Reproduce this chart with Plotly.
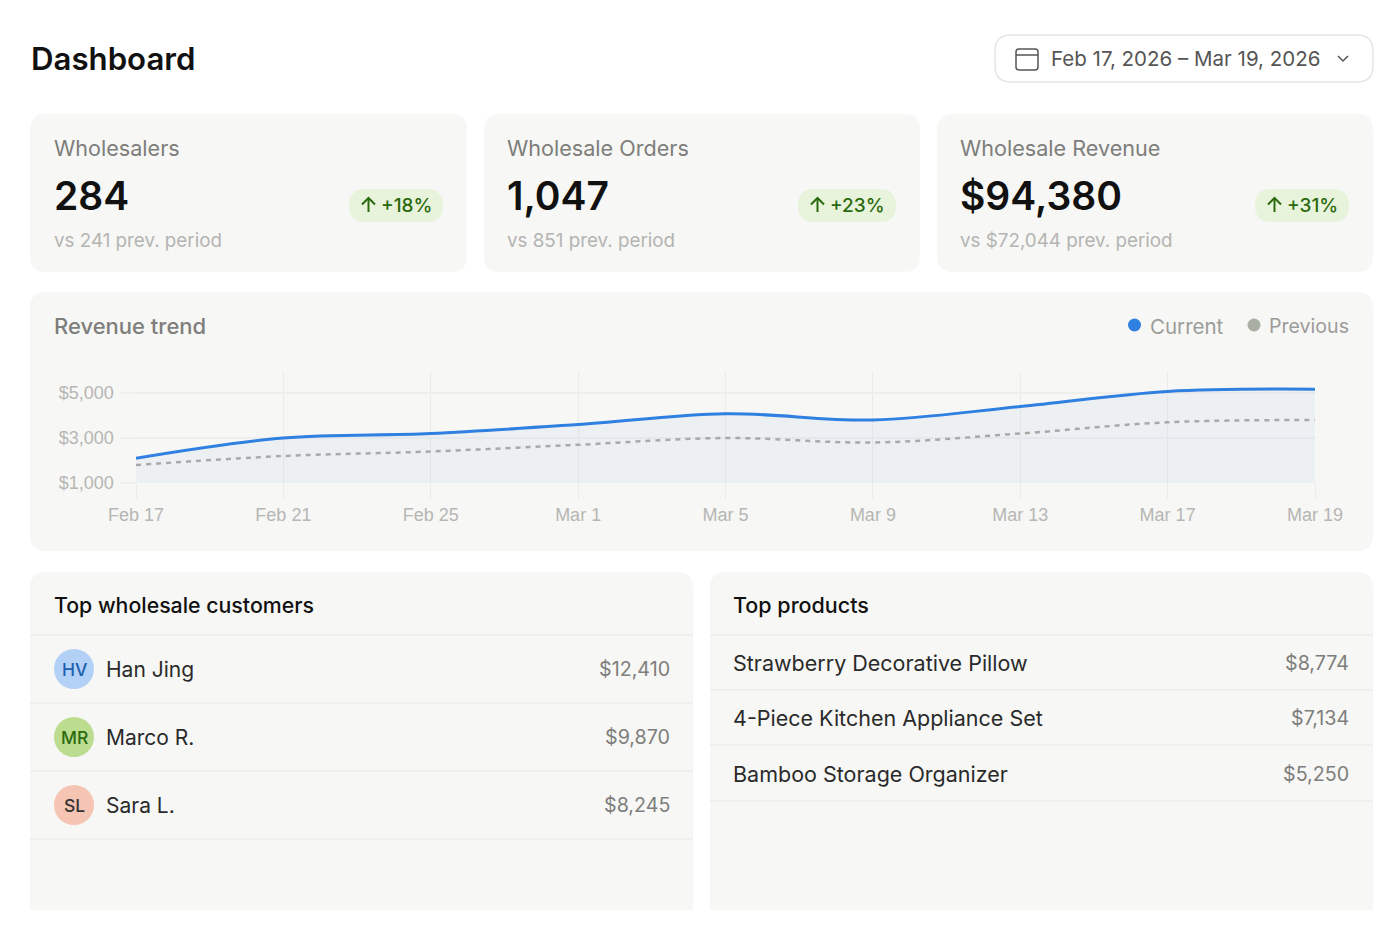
import plotly.graph_objects as go

W, H = 1400, 940
FONT = "Inter, sans-serif"
CHART_FONT = "Liberation Sans, Arial, sans-serif"

dates = ["Feb 17", "Feb 21", "Feb 25", "Mar 1", "Mar 5", "Mar 9", "Mar 13", "Mar 17", "Mar 19"]
current = [2100, 3000, 3200, 3600, 4080, 3800, 4400, 5070, 5170]
previous = [1800, 2200, 2400, 2700, 3000, 2800, 3200, 3700, 3800]
y_ticks = [1000, 3000, 5000]
y_labels = ["$1,000", "$3,000", "$5,000"]

kpi_titles = ["Wholesalers", "Wholesale Orders", "Wholesale Revenue"]
kpi_values = ["284", "1,047", "$94,380"]
kpi_subs = ["vs 241 prev. period", "vs 851 prev. period", "vs $72,044 prev. period"]
kpi_deltas = ["+18%", "+23%", "+31%"]

customers = ["Han Jing", "Marco R.", "Sara L."]
customer_initials = ["HV", "MR", "SL"]
customer_sales = ["$12,410", "$9,870", "$8,245"]
products = ["Strawberry Decorative Pillow", "4-Piece Kitchen Appliance Set", "Bamboo Storage Organizer"]
product_sales = ["$8,774", "$7,134", "$5,250"]

CARD = "#f7f7f5"
LINE = "#ecedeb"


def px(x):
    return x / W


def py(y):
    return 1 - y / H


def text(x, y, s, size, color, anchor="left", weight=400, font=FONT):
    shift = {"left": -2, "right": 2, "center": 0}[anchor]
    return dict(xref="paper", yref="paper", x=px(x + shift), y=py(y), text=s, showarrow=False,
                xanchor=anchor, yanchor="middle",
                font=dict(family=font, size=size, color=color, weight=weight))


def rrect(x0, y0, x1, y1, r, fill, line=None, bottom_round=True):
    X0, X1, Y0, Y1 = px(x0), px(x1), py(y0), py(y1)
    rx, ry = r / W, r / H
    if bottom_round:
        p = (f"M{X0+rx},{Y0} L{X1-rx},{Y0} Q{X1},{Y0} {X1},{Y0-ry} L{X1},{Y1+ry} Q{X1},{Y1} {X1-rx},{Y1} "
             f"L{X0+rx},{Y1} Q{X0},{Y1} {X0},{Y1+ry} L{X0},{Y0-ry} Q{X0},{Y0} {X0+rx},{Y0} Z")
    else:
        p = (f"M{X0+rx},{Y0} L{X1-rx},{Y0} Q{X1},{Y0} {X1},{Y0-ry} L{X1},{Y1} L{X0},{Y1} "
             f"L{X0},{Y0-ry} Q{X0},{Y0} {X0+rx},{Y0} Z")
    return dict(type="path", xref="paper", yref="paper", path=p, fillcolor=fill, layer="below",
                line=dict(color=line or "rgba(0,0,0,0)", width=1.5 if line else 0))


def hline(x0, x1, y, color=LINE, width=1.5):
    return dict(type="line", xref="paper", yref="paper", x0=px(x0), x1=px(x1), y0=py(y), y1=py(y),
                line=dict(color=color, width=width), layer="below")


def circle(cx, cy, r, fill):
    return dict(type="circle", xref="paper", yref="paper", x0=px(cx - r), x1=px(cx + r), y0=py(cy - r), y1=py(cy + r),
                fillcolor=fill, line=dict(width=0), layer="below")


def polyline(points, color, width=2):
    p = "M" + " L".join(f"{px(a)},{py(b)}" for a, b in points)
    return dict(type="path", xref="paper", yref="paper", path=p, line=dict(color=color, width=width), layer="above")


shapes, ann = [], []
ann.append(text(31, 59, "Dashboard", 31.2, "#111111", weight=600))

# date picker
shapes.append(rrect(995, 35, 1373, 82, 16, "#ffffff", "#e6e6e6"))
shapes.append(rrect(1016, 49, 1038, 70, 3, "rgba(0,0,0,0)", "#555555"))
shapes.append(hline(1016, 1038, 55, "#555555", 1.5))
shapes[-1]["layer"] = "above"
shapes.append(polyline([(1338, 56), (1343, 61), (1348, 56)], "#555555", 1.5))
ann.append(text(1051, 59, "Feb 17, 2026 – Mar 19, 2026", 20.5, "#555555"))

# KPI cards
card_x = [(30, 467), (484, 920), (937, 1373)]
pill_x = [(349, 443), (798, 896), (1255, 1349)]
for i in range(3):
    x0, x1 = card_x[i]
    shapes.append(rrect(x0, 114, x1, 272, 16, CARD))
    ann.append(text(x0 + 24 + (-1 if i else 0), 148, kpi_titles[i], 21.6, "#7e7e7c"))
    ann.append(text(x0 + 24 + (-1 if i else 0), 196, kpi_values[i], 39, "#111111", weight=600))
    ann.append(text(x0 + 24 + (-1 if i else 0), 240.5, kpi_subs[i], 18.8, "#b4b4b2"))
    a, b = pill_x[i]
    shapes.append(rrect(a, 189, b, 222, 16.5, "#e8f3dc"))
    ax = a + 19.5
    shapes.append(polyline([(ax, 212), (ax, 198)], "#2b6a0c", 2))
    shapes.append(polyline([(ax - 6.5, 204.5), (ax, 198), (ax + 6.5, 204.5)], "#2b6a0c", 2))
    ann.append(text(a + 32, 205.5, kpi_deltas[i], 19, "#2b6a0c", weight=500))

# chart card
shapes.append(rrect(30, 292, 1373, 551, 16, CARD))
ann.append(text(54, 326, "Revenue trend", 22, "#7e7e7c", weight=500))
shapes.append(circle(1134.5, 325, 6.5, "#2f80e0"))
shapes.append(circle(1254, 325, 6.5, "#a9aea2"))
ann.append(text(1150, 326, "Current", 20.5, "#9c9c9a"))
ann.append(text(1269, 326, "Previous", 19.6, "#9c9c9a"))

# bottom cards
shapes.append(rrect(30, 572, 693, 910, 16, CARD, bottom_round=False))
shapes.append(rrect(710, 572, 1373, 910, 16, CARD, bottom_round=False))
ann.append(text(54, 605, "Top wholesale customers", 21.3, "#111111", weight=500))
ann.append(text(733, 605, "Top products", 21.5, "#111111", weight=500))

for y in (635, 703, 771, 839):
    shapes.append(hline(30, 693, y))
for y in (635, 690, 745, 801):
    shapes.append(hline(710, 1373, y))

avatar_fill = ["#b3d1f6", "#bcdc90", "#f5c4b2"]
avatar_text = ["#1c5fae", "#2b6a0c", "#333333"]
avatar_y = [669, 737, 805]
for i in range(3):
    y = avatar_y[i]
    shapes.append(circle(74, y, 20, avatar_fill[i]))
    ann.append(text(74, y, customer_initials[i], 17.5, avatar_text[i], anchor="center", weight=500))
    ann.append(text(106, y, customers[i], 21, "#2a2a2a"))
    ann.append(text(670, y, customer_sales[i], 19.7, "#7e7e7c", anchor="right"))

product_y = [662.5, 718, 774]
for i in range(3):
    y = product_y[i]
    ann.append(text(733, y, products[i], 21.5, "#2a2a2a"))
    ann.append(text(1349, y, product_sales[i], 19.7, "#7e7e7c", anchor="right"))

fig = go.Figure()
fig.add_trace(go.Scatter(x=dates, y=current, name="Current", mode="lines",
                         line=dict(color="#2f80e0", width=3, shape="spline", smoothing=1.0),
                         fill="tozeroy", fillcolor="rgba(60,120,210,0.05)", hoverinfo="skip"))
fig.add_trace(go.Scatter(x=dates, y=previous, name="Previous", mode="lines",
                         line=dict(color="#a9a9a7", width=2.5, dash="5px,5px", shape="spline", smoothing=1.0),
                         hoverinfo="skip"))

fig.update_layout(
    width=W, height=H, margin=dict(l=0, r=0, t=0, b=0, autoexpand=False), showlegend=False,
    paper_bgcolor="#ffffff", plot_bgcolor="rgba(0,0,0,0)",
    shapes=shapes, annotations=ann,
    xaxis=dict(domain=[px(136), px(1315)], type="category", categoryorder="array", categoryarray=dates,
               range=[0, 8], showgrid=True, gridcolor="#ebebe9", gridwidth=1, ticks="outside", ticklen=15,
               tickcolor="#ebebe9", tickwidth=1, zeroline=False, showline=False,
               tickfont=dict(family=CHART_FONT, size=18, color="#b6b6b4")),
    yaxis=dict(domain=[py(483), py(371)], range=[1000, 5978], tickvals=y_ticks, ticktext=y_labels,
               showgrid=True, gridcolor="#eeeeec", gridwidth=1.5, ticks="outside", ticklen=14.5,
               tickcolor="#eeeeec", tickwidth=1.5, zeroline=False, showline=False, ticklabelstandoff=3,
               tickfont=dict(family=CHART_FONT, size=18, color="#b6b6b4")),
)

fig.write_html("out.html", config={"displayModeBar": False},
               post_script="document.body.style.margin='0';document.body.style.overflow='hidden';")
